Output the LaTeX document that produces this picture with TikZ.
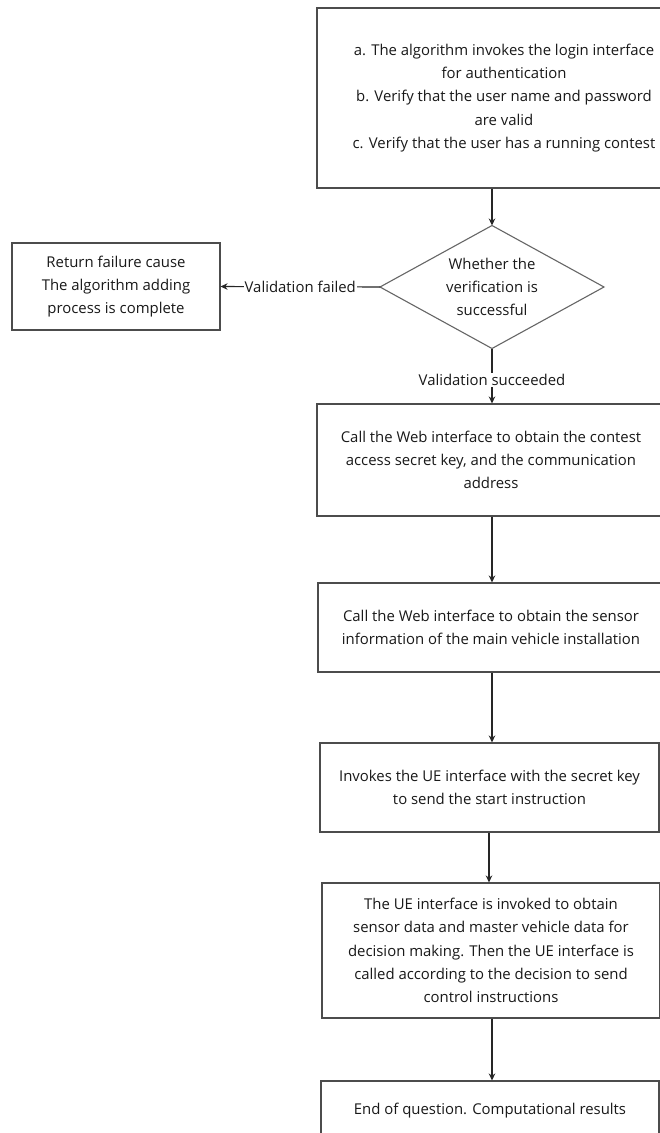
\documentclass[tikz,border=0pt]{standalone}
\usepackage{fontspec}
\setmainfont{Open Sans}
\usetikzlibrary{shapes.geometric,arrows.meta}
\begin{document}
\begin{tikzpicture}[x=1pt,y=-1pt,
  every node/.style={font=\fontsize{14.9}{23.3}\selectfont, text=black!90},
  box/.style={draw=black!70, line width=1.1pt, align=center, inner sep=0pt},
  dec/.style={draw=black!60, line width=1.1pt, shape=diamond, inner sep=0pt, outer sep=0pt},
  arr/.style={draw=black!85, line width=1.1pt, -{Stealth[length=7pt,width=6.5pt]}},
  lab/.style={fill=white, inner sep=1pt}
]
\useasboundingbox (0,0) rectangle (660,1133);
\clip (0,0) rectangle (660,1133);
\fill[white] (0,0) rectangle (660,1133);

\node[box, minimum width=374pt, minimum height=180pt] (auth) at (504,98)
  {a. The algorithm invokes the login interface\\for authentication\\b. Verify that the user name and password\\are valid\\c. Verify that the user has a running contest};

\node[dec, minimum width=224pt, minimum height=123pt] (ver) at (492,287) {};
\node[align=center] (vertext) at (ver.center) {Whether the\\verification is\\successful};

\node[box, minimum width=208pt, minimum height=87pt] (fail) at (116,286.5)
  {Return failure cause\\The algorithm adding\\process is complete};

\node[box, minimum width=348pt, minimum height=112pt] (key) at (491,460)
  {Call the Web interface to obtain the contest\\access secret key, and the communication\\address};

\node[box, minimum width=346pt, minimum height=89pt] (sensor) at (491,627.5)
  {Call the Web interface to obtain the sensor\\information of the main vehicle installation};

\node[box, minimum width=339pt, minimum height=89pt] (start) at (489.5,787.5)
  {Invokes the UE interface with the secret key\\to send the start instruction};

\node[box, minimum width=338pt, minimum height=135pt] (ctrl) at (491,950.5)
  {The UE interface is invoked to obtain\\sensor data and master vehicle data for\\decision making. Then the UE interface is\\called according to the decision to send\\control instructions};

\node[box, minimum width=338pt, minimum height=60pt] (endq) at (490,1111)
  {End of question. Computational results};

\draw[arr] (auth.south -| ver.north) -- (ver.north);
\draw[arr] (ver.west) -- node[lab] {Validation failed} (fail.east);
\draw[arr] (ver.south) -- node[lab, pos=0.57] {Validation succeeded} (ver.south |- key.north);
\draw[arr] (key.south -| 492,0) -- (492,0 |- sensor.north);
\draw[arr] (sensor.south -| 492,0) -- (492,0 |- start.north);
\draw[arr] (start.south -| 489,0) -- (489,0 |- ctrl.north);
\draw[arr] (ctrl.south -| 492,0) -- (492,0 |- endq.north);
\end{tikzpicture}
\end{document}
